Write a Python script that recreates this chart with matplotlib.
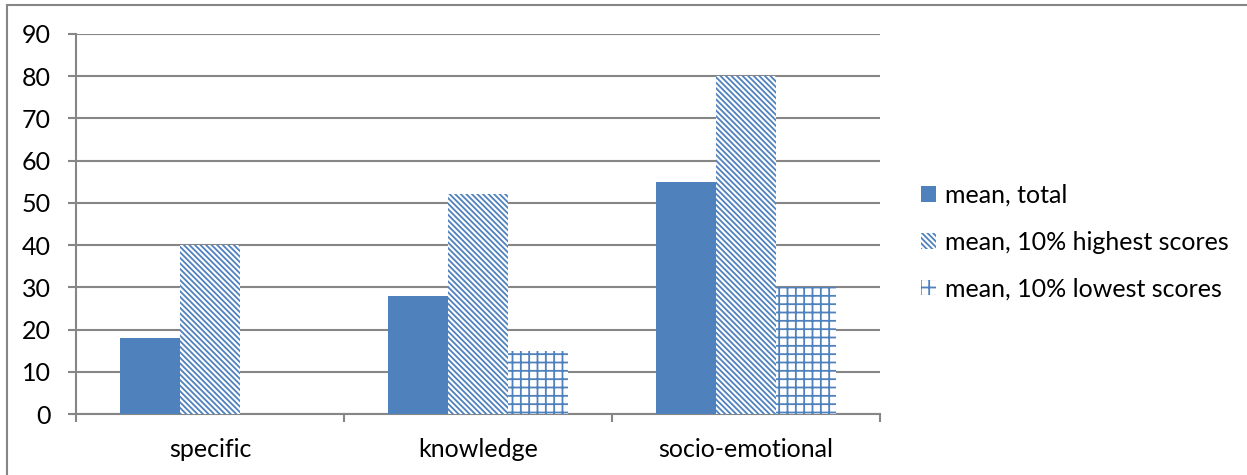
import matplotlib
matplotlib.use("Agg")
import matplotlib.pyplot as plt
from matplotlib.patches import Rectangle
import numpy as np

categories = ["specific", "knowledge", "socio-emotional"]
mean_total = [18, 28, 55]
mean_highest = [40, 52, 80]
mean_lowest = [0, 15, 30]
series_labels = ["mean, total", "mean, 10% highest scores", "mean, 10% lowest scores"]
y_ticks = list(range(0, 100, 10))

BLUE = "#4F81BD"
GREY = "#868686"

plt.rcParams["font.family"] = ["Lato", "DejaVu Sans"]
plt.rcParams["font.size"] = 18
plt.rcParams["hatch.linewidth"] = 1.3

fig = plt.figure(figsize=(12.47, 4.75), dpi=100)
ax = fig.add_axes([76 / 1247, 61 / 475, 804 / 1247, 380 / 475])

x = np.arange(len(categories))
w = 0.224

ax.bar(x - w, mean_total, w, color=BLUE, edgecolor=BLUE, linewidth=0,
       label=series_labels[0], zorder=3)
ax.bar(x, mean_highest, w, color="white", edgecolor=BLUE, linewidth=0,
       hatch="\\" * 6, label=series_labels[1], zorder=3)
ax.bar(x + w, mean_lowest, w, color="white", edgecolor=BLUE, linewidth=0,
       hatch="++", label=series_labels[2], zorder=3)

ax.set_xlim(-0.5, len(categories) - 0.5)
ax.set_ylim(0, 90)
ax.set_yticks(y_ticks)
ax.yaxis.grid(True, color=GREY, linewidth=1.5, zorder=0)
ax.set_axisbelow(True)

ax.set_xticks(x)
ax.set_xticklabels(categories)
ax.set_xticks(np.arange(-0.5, len(categories), 1.0), minor=True)
ax.tick_params(axis="x", which="major", length=0, pad=17)
ax.tick_params(axis="x", which="minor", length=6, width=1.5, color=GREY, direction="out")
ax.tick_params(axis="y", length=6, width=1.5, color=GREY, pad=12)

for side in ("top", "right"):
    ax.spines[side].set_visible(False)
for side in ("left", "bottom"):
    ax.spines[side].set_color(GREY)
    ax.spines[side].set_linewidth(1.5)

ax.legend(loc="center left", bbox_to_anchor=(921 / 1247, 1 - 242 / 475),
          bbox_transform=fig.transFigure, frameon=False, borderpad=0,
          borderaxespad=0, handlelength=0.6, handleheight=0.6,
          handletextpad=0.35, labelspacing=0.95)

# chart-area frame around everything
fig.patches.append(Rectangle((7 / 1247, -0.2), 1.2, 1.2 - 5 / 475,
                             transform=fig.transFigure, fill=False,
                             edgecolor=GREY, linewidth=1.5))

fig.savefig("out.png", dpi=100)
